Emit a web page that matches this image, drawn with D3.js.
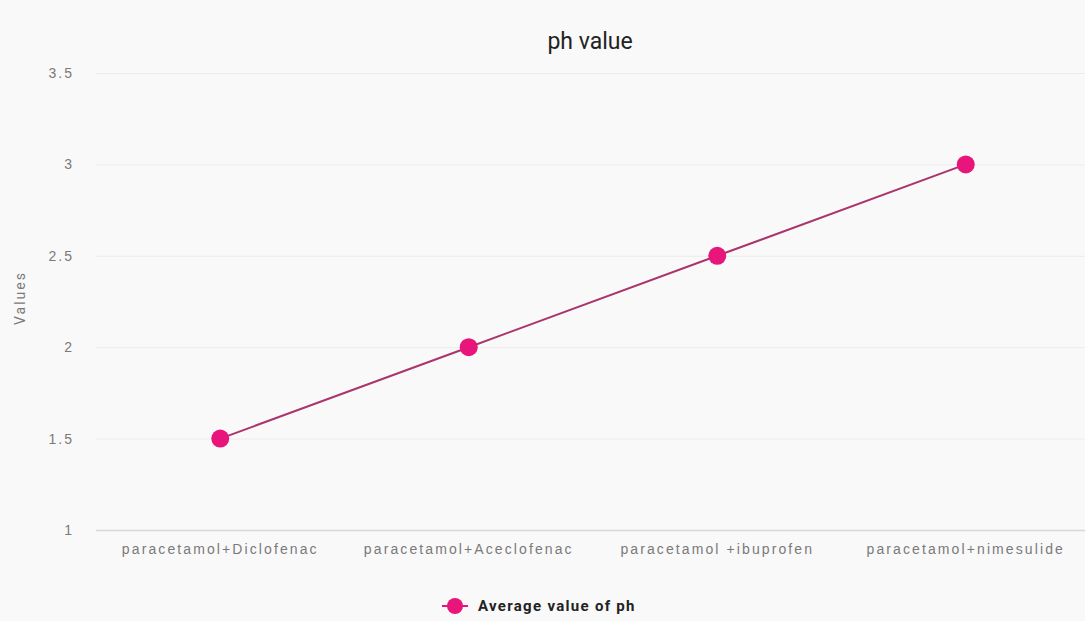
<!DOCTYPE html>
<html>
<head>
<meta charset="utf-8">
<script src="https://cdn.jsdelivr.net/npm/d3@7"></script>
<style>
  html, body { margin: 0; padding: 0; background: #f9f9f9; }
  svg { display: block; font-family: Roboto, "Noto Sans", sans-serif; }
</style>
</head>
<body>
<figure id="chart" style="margin:0"></figure>
<script>
const categories = ["paracetamol+Diclofenac", "paracetamol+Aceclofenac", "paracetamol +ibuprofen", "paracetamol+nimesulide"];
const phValues = [1.5, 2, 2.5, 3];
const yTicks = [1, 1.5, 2, 2.5, 3, 3.5];
const seriesName = "Average value of ph";

const width = 1085, height = 621;
const margin = { top: 73, right: 0, bottom: 91, left: 96 };

const svg = d3.select("#chart")
  .append("svg")
  .attr("width", width)
  .attr("height", height);

svg.append("rect")
  .attr("width", width).attr("height", height)
  .attr("fill", "#f9f9f9");

// scales
const x = d3.scaleBand()
  .domain(categories)
  .range([margin.left, 1090]);

const y = d3.scaleLinear()
  .domain([1, 3.5])
  .range([height - margin.bottom, margin.top]);

// gridlines + y labels
const yAxis = svg.append("g")
  .attr("transform", "translate(" + margin.left + ",0)")
  .call(d3.axisLeft(y).tickValues(yTicks).tickSize(-(width - margin.left)).tickPadding(22)
    .tickFormat(d => d3.format("~g")(d)));
yAxis.select(".domain").remove();
yAxis.selectAll(".tick line")
  .attr("stroke", d => d === 1 ? "#d8d8d8" : "#ececec")
  .attr("stroke-width", d => d === 1 ? 1.5 : 1);
yAxis.selectAll("text")
  .attr("fill", "#7a7a7a")
  .style("font-size", "14px")
  .style("letter-spacing", "2px");

// x labels
const xAxis = svg.append("g")
  .attr("transform", "translate(0," + (height - margin.bottom) + ")")
  .call(d3.axisBottom(x).tickSize(0).tickPadding(14));
xAxis.select(".domain").remove();
xAxis.selectAll("text")
  .attr("fill", "#7a7a7a")
  .style("font-size", "14px")
  .style("letter-spacing", "2.1px");

// line
const line = d3.line()
  .x((d, i) => x(categories[i]) + x.bandwidth() / 2)
  .y(d => y(d));

svg.append("path")
  .datum(phValues)
  .attr("fill", "none")
  .attr("stroke", "#aa356c")
  .attr("stroke-width", 2)
  .attr("d", line);

svg.selectAll(".pt")
  .data(phValues)
  .enter()
  .append("circle")
  .attr("class", "pt")
  .attr("cx", (d, i) => x(categories[i]) + x.bandwidth() / 2)
  .attr("cy", d => y(d))
  .attr("r", 9)
  .attr("fill", "#e8157a");

// title
svg.append("text")
  .attr("x", 590).attr("y", 49)
  .attr("text-anchor", "middle")
  .attr("fill", "#222")
  .style("font-size", "23px")
  .text("ph value");

// y axis title
svg.append("text")
  .attr("transform", "translate(25,298) rotate(-90)")
  .attr("text-anchor", "middle")
  .attr("fill", "#7a7a7a")
  .style("font-size", "14px")
  .style("letter-spacing", "2px")
  .text("Values");

// legend
const lg = svg.append("g").attr("transform", "translate(455,606)");
lg.append("line")
  .attr("x1", -13).attr("x2", 13)
  .attr("stroke", "#e8157a").attr("stroke-width", 2);
lg.append("circle").attr("r", 8).attr("fill", "#e8157a");
lg.append("text")
  .attr("x", 23).attr("y", 5)
  .attr("fill", "#222")
  .style("font-size", "15px")
  .style("font-weight", "bold")
  .style("letter-spacing", "1.3px")
  .text(seriesName);
</script>
</body>
</html>
